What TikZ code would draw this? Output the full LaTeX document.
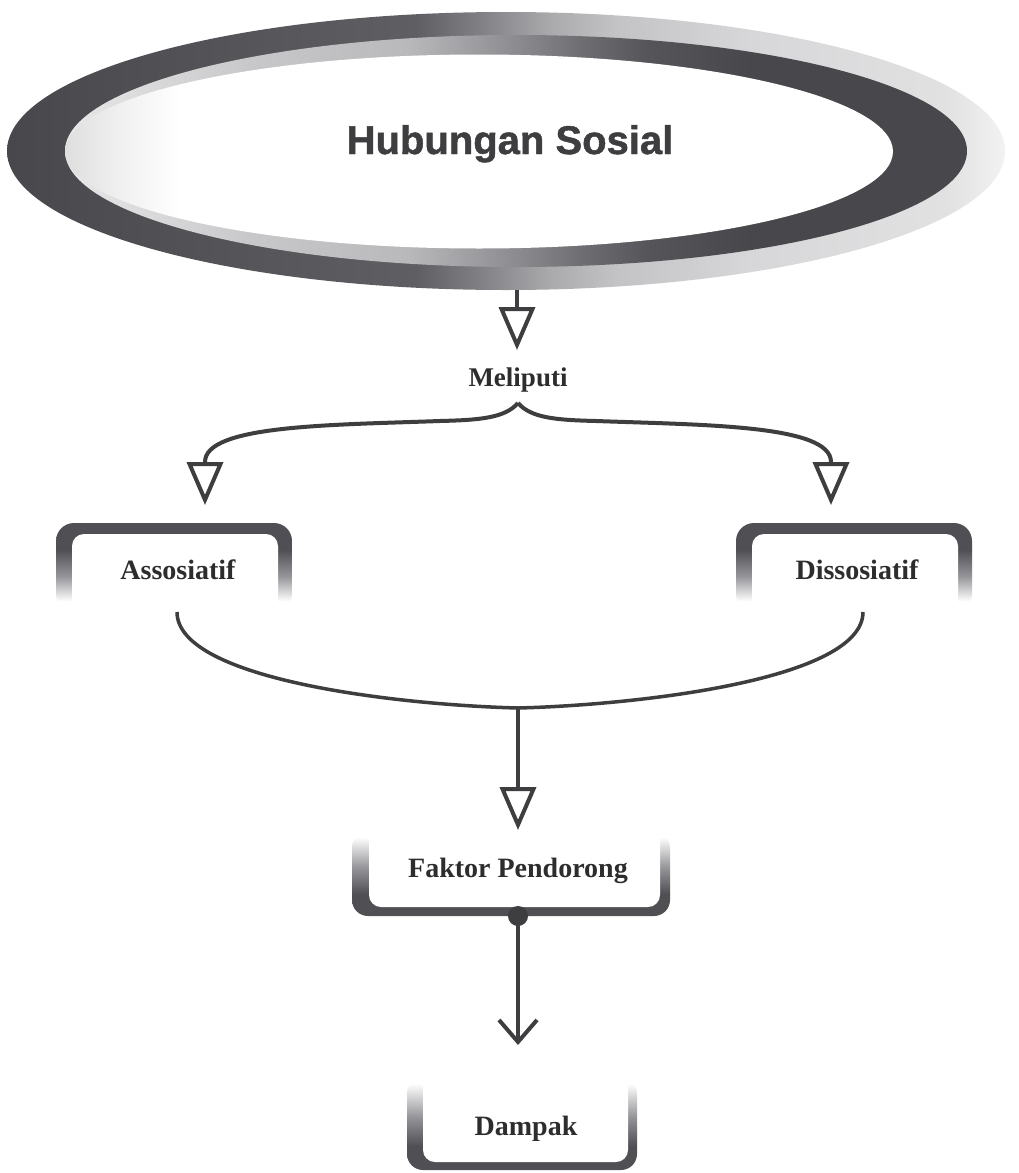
\documentclass[tikz,border=0pt]{standalone}
\usepackage{fontspec}
\setmainfont{Liberation Serif}
\newfontfamily\hubfont[BoldFeatures={FakeBold=1.2}]{Liberation Sans}
\usetikzlibrary{arrows.meta}
\definecolor{rdark}{RGB}{72,72,76}
\definecolor{lcol}{RGB}{62,62,64}
\definecolor{tcol}{RGB}{45,45,45}
\definecolor{bdark}{RGB}{80,80,84}
\definecolor{bmid}{RGB}{150,150,154}
\pgfdeclarehorizontalshading{ringA}{100bp}{color(0bp)=(rdark); color(25bp)=(rdark); color(45.5bp)=(rgb,255:red,95;green,95;blue,99); color(48.8bp)=(rgb,255:red,130;green,130;blue,134); color(52.2bp)=(rgb,255:red,170;green,170;blue,173); color(55.5bp)=(rgb,255:red,195;green,195;blue,198); color(62.2bp)=(rgb,255:red,215;green,215;blue,217); color(72bp)=(rgb,255:red,225;green,225;blue,226); color(75bp)=(rgb,255:red,242;green,242;blue,242); color(100bp)=(rgb,255:red,242;green,242;blue,242)}
\pgfdeclarehorizontalshading{ringB}{100bp}{color(0bp)=(rgb,255:red,232;green,232;blue,233); color(25bp)=(rgb,255:red,232;green,232;blue,233); color(35.3bp)=(rgb,255:red,200;green,200;blue,202); color(44bp)=(rgb,255:red,185;green,185;blue,188); color(50bp)=(rgb,255:red,140;green,140;blue,144); color(53.7bp)=(rgb,255:red,110;green,110;blue,114); color(57.4bp)=(rgb,255:red,85;green,85;blue,89); color(63bp)=(rdark); color(75bp)=(rdark); color(100bp)=(rdark)}
\pgfdeclarehorizontalshading{innerW}{100bp}{color(0bp)=(rgb,255:red,222;green,222;blue,223); color(25bp)=(rgb,255:red,222;green,222;blue,223); color(28.3bp)=(rgb,255:red,240;green,240;blue,240); color(32bp)=(white); color(100bp)=(white)}
\pgfdeclareverticalshading{boxtop}{100bp}{color(0bp)=(white); color(25bp)=(white); color(31bp)=(white); color(45bp)=(bmid); color(60bp)=(bdark); color(75bp)=(bdark); color(100bp)=(bdark)}
\pgfdeclareverticalshading{boxbot}{100bp}{color(0bp)=(bdark); color(25bp)=(bdark); color(38bp)=(bdark); color(54bp)=(bmid); color(72bp)=(white); color(100bp)=(white)}
\tikzset{
  hubtext/.style={font=\hubfont\bfseries\fontsize{40}{48}\selectfont, text=lcol, inner sep=0pt},
  lbl/.style={font=\bfseries\fontsize{28}{34}\selectfont, text=tcol, inner sep=0pt},
  conn/.style={draw=lcol, line width=4pt},
  trihead/.style={-{Triangle[length=43pt, width=36pt, fill=white]}},
  barbhead/.style={-{Straight Barb[length=22pt, width=38pt]}}
}
\begin{document}
\begin{tikzpicture}[x=1pt,y=-1pt]
\fill[white] (0,0) rectangle (1019,1173);
\useasboundingbox (0,0) rectangle (1019,1173);
% ring
\shade[shading=ringA] (506,151) ellipse [x radius=499, y radius=139];
\shade[shading=ringB] (516,151) ellipse [x radius=451, y radius=116];
\shade[shading=innerW] (479,151.5) ellipse [x radius=414, y radius=97];
\node[hubtext, anchor=base] (hub) at (510,154) {Hubungan Sosial};
\coordinate (hubS) at (517,290);
% Meliputi
\node[lbl, anchor=base, font=\bfseries\fontsize{27}{32}\selectfont] (meli) at (518,386) {Meliputi};
\coordinate (meliN) at (517,350);
\coordinate (meliS) at (518,403);
% boxes top
\shade[shading=boxtop, rounded corners=18pt] (56,523) rectangle (292,612);
\fill[white, rounded corners=12pt] (72,534) rectangle (278,640);
\shade[shading=boxtop, rounded corners=18pt] (736,523) rectangle (972,612);
\fill[white, rounded corners=12pt] (752,534) rectangle (958,640);
\node[lbl, anchor=base] (ass) at (178,579) {Assosiatif};
\node[lbl, anchor=base] (dis) at (857,579) {Dissosiatif};
\coordinate (assN) at (205,505);
\coordinate (disN) at (831,505);
\coordinate (assS) at (177,612);
\coordinate (disS) at (863,612);
\coordinate (uB) at (518,708);
% Faktor box
\shade[shading=boxbot, rounded corners=16pt] (352,832) rectangle (670,916);
\fill[white, rounded corners=12pt] (369,800) rectangle (660,907);
\node[lbl, anchor=base] (fak) at (518,877) {Faktor Pendorong};
\coordinate (fakN) at (518,830);
\coordinate (fakS) at (518,916);
% Dampak box
\shade[shading=boxbot, rounded corners=16pt] (407,1078) rectangle (637,1170);
\fill[white, rounded corners=12pt] (423,1050) rectangle (628,1162);
\node[lbl, anchor=base] (dam) at (526,1135) {Dampak};
\coordinate (damN) at (518,1045);
% connectors
\draw[conn, trihead] (hubS) -- (meliN);
\draw[conn, trihead] (meliS) .. controls (505,418) and (480,420) .. (440,421)
   .. controls (330,425) and (205,425) .. (205,462) -- (assN);
\draw[conn, trihead] (meliS) .. controls (531,418) and (556,420) .. (596,421)
   .. controls (706,425) and (831,425) .. (831,462) -- (disN);
\draw[conn, line width=3.5pt] (assS) .. controls (177,680) and (400,705) .. (uB)
   .. controls (636,705) and (863,680) .. (disS);
\draw[conn, trihead] (uB) -- (fakN);
\draw[conn, barbhead] (fakS) -- (damN);
\fill[lcol] (fakS) circle (10);
\end{tikzpicture}
\end{document}
